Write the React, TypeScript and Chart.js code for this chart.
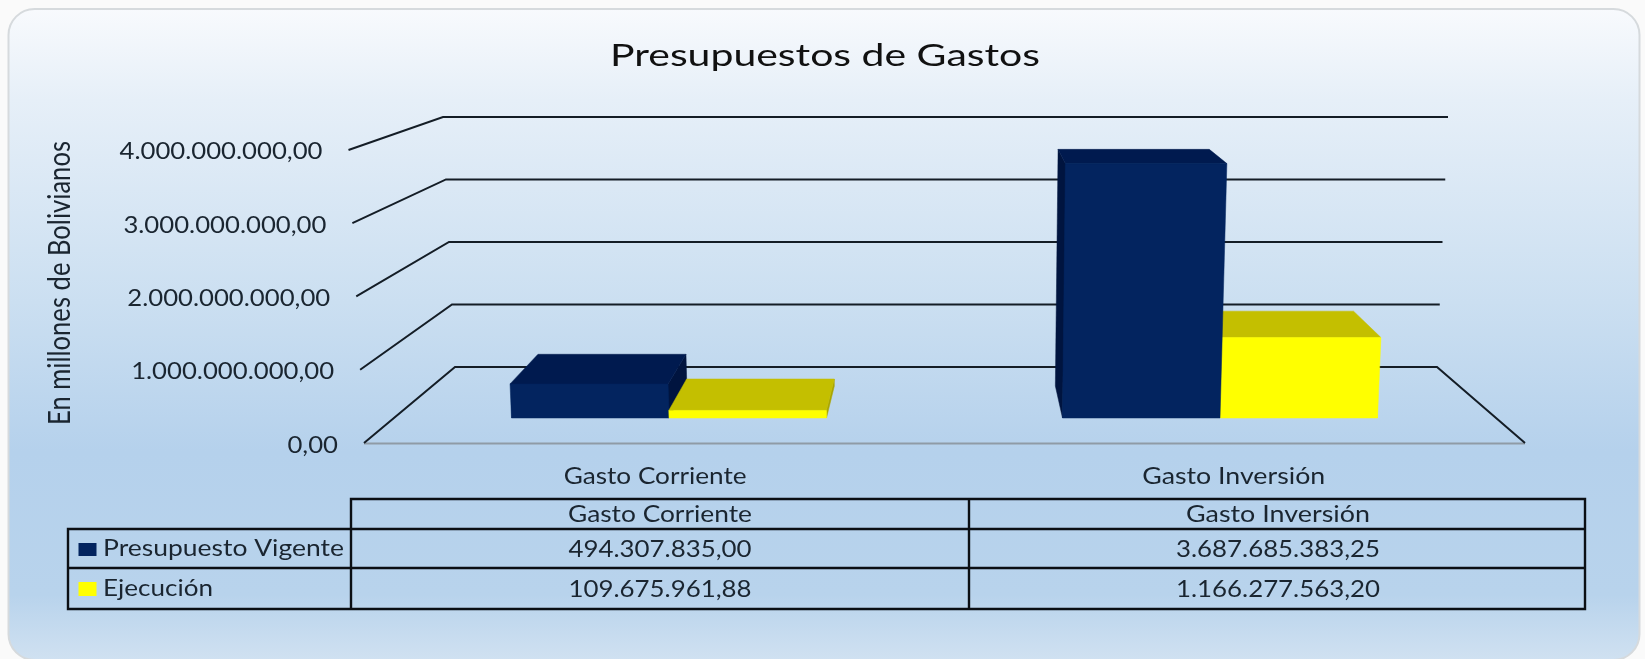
import React, { useEffect, useRef } from "react";
import { Chart, registerables } from "chart.js";

Chart.register(...registerables);

const chartTitle = "Presupuestos de Gastos";
const yTitle = "En millones de Bolivianos";
const categories = ["Gasto Corriente", "Gasto Inversión"];
const presupuestoVigente = [494307835.0, 3687685383.25];
const ejecucion = [109675961.88, 1166277563.2];
const seriesNames = ["Presupuesto Vigente", "Ejecución"];
const yTicks = [0, 1000000000, 2000000000, 3000000000, 4000000000];

const fmt = new Intl.NumberFormat("de-DE", { minimumFractionDigits: 2, maximumFractionDigits: 2 });

const BLUE = "#03245f";
const BLUE_TOP = "#001a4f";
const BLUE_SIDE = "#00143f";
const YELLOW = "#ffff00";
const YELLOW_TOP = "#c4bf00";
const YELLOW_SIDE = "#a9a500";
const FONT = "Lato";
const TEXT_SIZE = 22.5;

type Pt = [number, number];

function poly(ctx: CanvasRenderingContext2D, pts: Pt[], color: string) {
  ctx.beginPath();
  pts.forEach((p, i) => (i ? ctx.lineTo(p[0], p[1]) : ctx.moveTo(p[0], p[1])));
  ctx.closePath();
  ctx.fillStyle = color;
  ctx.fill();
  ctx.strokeStyle = color;
  ctx.lineWidth = 0.5;
  ctx.stroke();
}

// text stretched along its own direction so that it spans targetW
function fitText(
  ctx: CanvasRenderingContext2D,
  text: string,
  x: number,
  baseline: number,
  size: number,
  targetW: number,
  color = "#1a2530",
  rotate = false
) {
  ctx.save();
  ctx.font = `${size}px ${FONT}`;
  ctx.fillStyle = color;
  ctx.textBaseline = "alphabetic";
  ctx.textAlign = "left";
  const w = ctx.measureText(text).width;
  ctx.translate(x, baseline);
  if (rotate) ctx.rotate(-Math.PI / 2);
  ctx.scale(targetW / w, 1);
  ctx.fillText(text, 0, 0);
  ctx.restore();
}

const scene = {
  id: "scene3d",
  beforeDraw(chart: any) {
    const { ctx, width, height } = chart;
    ctx.save();
    ctx.fillStyle = "#fafafa";
    ctx.fillRect(0, 0, width, height);
    const g = ctx.createLinearGradient(0, 9, 0, 660);
    g.addColorStop(0, "#f8fafd");
    g.addColorStop(0.14, "#e6eff8");
    g.addColorStop(0.45, "#cbdff1");
    g.addColorStop(0.68, "#b5d1ec");
    g.addColorStop(0.9, "#b8d3ec");
    g.addColorStop(1, "#d0e1f1");
    ctx.beginPath();
    ctx.roundRect(8.5, 9, 1631, 651, 26);
    ctx.fillStyle = g;
    ctx.fill();
    ctx.strokeStyle = "#d6dadd";
    ctx.lineWidth = 2;
    ctx.stroke();
    ctx.restore();
  },
  beforeDatasetsDraw(chart: any) {
    const { ctx, scales } = chart;
    const y = scales.y;
    ctx.save();
    const baseY = y.getPixelForValue(0);
    const floorF = 443;
    const floorB = 367;
    for (const t of y.ticks) {
      const py = y.getPixelForValue(t.value);
      const b = t.value / 1e9;
      const fy = floorF + (py - baseY) * 1.0618;
      const by = floorB + (py - baseY) * 0.906;
      const fx = 364 - 3.875 * b;
      const bxL = 455 - 3 * b;
      const bxR = 1437 + 2.75 * b;
      if (t.value === 0) {
        ctx.strokeStyle = "#8f9ba6";
        ctx.lineWidth = 2;
        ctx.beginPath();
        ctx.moveTo(fx, floorF + 0.5);
        ctx.lineTo(1525, floorF + 0.5);
        ctx.stroke();
      }
      ctx.strokeStyle = "#141d26";
      ctx.lineWidth = 2;
      ctx.beginPath();
      ctx.moveTo(fx, fy);
      ctx.lineTo(bxL, by);
      ctx.lineTo(bxR, by);
      if (t.value === 0) ctx.lineTo(1525, floorF);
      ctx.stroke();
      const label = String(t.label);
      ctx.font = `${TEXT_SIZE}px ${FONT}`;
      const w = ctx.measureText(label).width;
      const sx = 203 / ctx.measureText("4.000.000.000,00").width;
      fitText(ctx, label, fx - 26 - w * sx, fy + 9.5, TEXT_SIZE, w * sx);
    }
    ctx.restore();
  },
  afterDatasetsDraw(chart: any) {
    const { ctx, scales } = chart;
    const y = scales.y;
    const vx = 950;
    const vy = -39;
    const back = (p: Pt): Pt => [p[0] + 0.0635 * (vx - p[0]), p[1] - 0.07 * (p[1] - vy)];
    const baseY = y.getPixelForValue(0);
    const bars: any[] = [];
    chart.data.datasets.forEach((ds: any, di: number) => {
      chart.getDatasetMeta(di).data.forEach((el: any, i: number) => {
        bars.push({ el, v: ds.data[i], di });
      });
    });
    bars.sort((a, b) => Math.abs(b.el.x - vx) - Math.abs(a.el.x - vx));
    for (const { el, v, di } of bars) {
      const L = el.x - el.width / 2;
      const R = el.x + el.width / 2;
      const spread = (px: number) => px + (px - 946) * 0.0068 * (v / 1e9);
      const fBL: Pt = [L, baseY];
      const fBR: Pt = [R, baseY];
      const fTL: Pt = [spread(L), el.y];
      const fTR: Pt = [spread(R), el.y];
      const [top, side, front] = di === 0 ? [BLUE_TOP, BLUE_SIDE, BLUE] : [YELLOW_TOP, YELLOW_SIDE, YELLOW];
      const bBL = back(fBL);
      const bBR = back(fBR);
      const bTL = back(fTL);
      const bTR = back(fTR);
      if (bTL[0] < fTL[0]) poly(ctx, [fTL, bTL, bBL, fBL], side);
      if (bTR[0] > fTR[0]) poly(ctx, [fTR, bTR, bBR, fBR], side);
      poly(ctx, [fTL, bTL, bTR, fTR], top);
      poly(ctx, [fBL, fTL, fTR, fBR], front);
    }
  },
  afterDraw(chart: any) {
    const { ctx, scales } = chart;
    const x = scales.x;
    ctx.save();
    fitText(ctx, chartTitle, 610, 66, 31, 430, "#111111");
    fitText(ctx, yTitle, 70, 425, 30, 284, "#1a2530", true);

    const labels: string[] = x.getLabels();
    labels.forEach((c, i) => {
      const cx = 946 + (x.getPixelForValue(i) - 946) * 1.05;
      fitText(ctx, c, cx - 91.5, 484, TEXT_SIZE, 183);
    });

    const xs = [68, 351, 969, 1585];
    const ys = [499, 529, 568, 609];
    ctx.strokeStyle = "#0b0f14";
    ctx.lineWidth = 2.4;
    ctx.lineCap = "square";
    ctx.beginPath();
    ctx.moveTo(xs[1], ys[0]);
    ctx.lineTo(xs[3], ys[0]);
    for (const yy of ys.slice(1)) {
      ctx.moveTo(xs[0], yy);
      ctx.lineTo(xs[3], yy);
    }
    ctx.moveTo(xs[0], ys[1]);
    ctx.lineTo(xs[0], ys[3]);
    ctx.moveTo(xs[1], ys[0]);
    ctx.lineTo(xs[1], ys[3]);
    ctx.moveTo(xs[2], ys[0]);
    ctx.lineTo(xs[2], ys[3]);
    ctx.moveTo(xs[3], ys[0]);
    ctx.lineTo(xs[3], ys[3]);
    ctx.stroke();

    const colCentres = [660, 1278];
    labels.forEach((c, i) => fitText(ctx, c, colCentres[i] - 92, 522, TEXT_SIZE, 184));
    const rowBase = [557, 597];
    [presupuestoVigente, ejecucion].forEach((row, r) => {
      row.forEach((val, i) => {
        const W = i === 1 ? 204 : 183;
        fitText(ctx, fmt.format(val), colCentres[i] - W / 2, rowBase[r], TEXT_SIZE, W);
      });
    });

    ctx.fillStyle = BLUE;
    ctx.fillRect(78.5, 543, 18, 13);
    ctx.fillStyle = YELLOW;
    ctx.fillRect(78.5, 582, 18, 14);
    fitText(ctx, seriesNames[0], 103, 556, TEXT_SIZE, 241);
    fitText(ctx, seriesNames[1], 103, 595.5, TEXT_SIZE, 110);
    ctx.restore();
  },
};

export default function App() {
  const ref = useRef<HTMLCanvasElement | null>(null);
  useEffect(() => {
    if (!ref.current) return;
    const chart = new Chart(ref.current, {
      type: "bar",
      data: {
        labels: categories,
        datasets: [
          { label: seriesNames[0], data: presupuestoVigente, backgroundColor: BLUE, borderWidth: 0 },
          { label: seriesNames[1], data: ejecucion, backgroundColor: YELLOW, borderWidth: 0 },
        ],
      },
      options: {
        responsive: false,
        animation: false,
        maintainAspectRatio: false,
        devicePixelRatio: 1,
        layout: { padding: { left: 393.5, right: 149.5, top: 142, bottom: 241 } },
        plugins: { legend: { display: false }, title: { display: false }, tooltip: { enabled: false } },
        datasets: { bar: { categoryPercentage: 0.5717, barPercentage: 1 } },
        scales: {
          x: { display: false },
          y: {
            display: false,
            min: yTicks[0],
            max: yTicks[yTicks.length - 1],
            afterBuildTicks: (axis: any) => {
              axis.ticks = yTicks.map((value) => ({ value }));
            },
            ticks: { callback: (v: any) => fmt.format(Number(v)) },
          },
        },
      },
      plugins: [scene],
    } as any);
    return () => chart.destroy();
  }, []);
  return (
    <div style={{ position: "fixed", left: 0, top: 0, width: 1645, height: 659, overflow: "hidden" }}>
      <canvas ref={ref} width={1645} height={659} style={{ display: "block" }} />
    </div>
  );
}
